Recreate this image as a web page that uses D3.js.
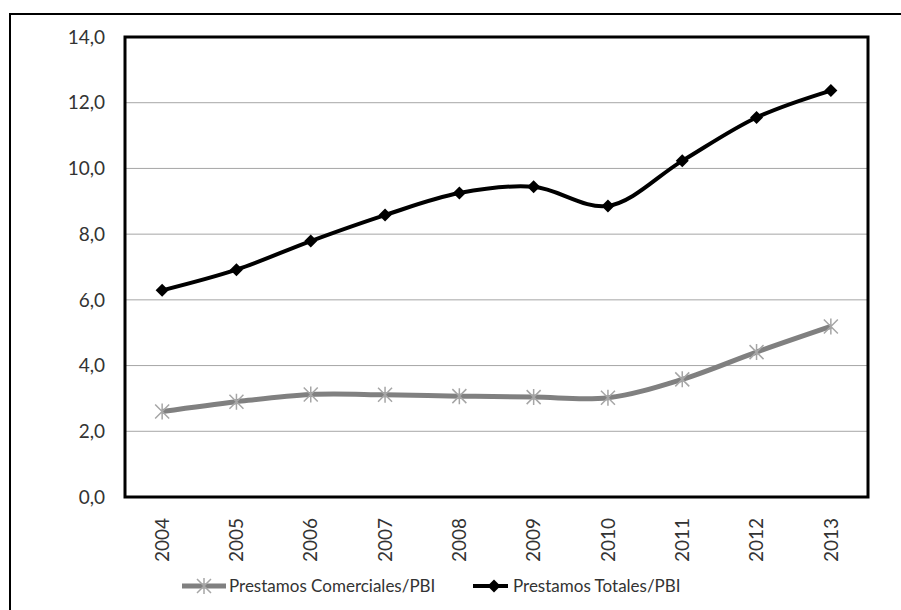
<!DOCTYPE html>
<html>
<head>
	<meta charset="utf-8">
	<title>Prestamos / PBI</title>
	<script src="https://d3js.org/d3.v7.min.js"></script>
	<style type="text/css">
		body {
			margin: 0;
			background: #fff;
		}
		svg {
			display: block;
			font-family: Lato, "Open Sans", sans-serif;
		}
		.grid line {
			stroke: #a6a6a6;
			stroke-width: 1;
		}
		.tick-label {
			fill: #333;
			font-size: 19px;
		}
		.legend-label {
			fill: #333;
			font-size: 17px;
		}
	</style>
</head>
<body>

<div id="chart"></div>

<script>
	// data
	var years = ["2004", "2005", "2006", "2007", "2008", "2009", "2010", "2011", "2012", "2013"];
	var comerciales = [2.60, 2.90, 3.12, 3.11, 3.07, 3.04, 3.02, 3.58, 4.41, 5.19];
	var totales = [6.29, 6.92, 7.79, 8.58, 9.25, 9.44, 8.86, 10.23, 11.55, 12.37];
	var yTicks = [0, 2, 4, 6, 8, 10, 12, 14];
	var seriesNames = ["Prestamos Comerciales/PBI", "Prestamos Totales/PBI"];

	var width = 901, height = 610;
	var plot = {left: 125, top: 37, right: 868, bottom: 497};

	var svg = d3.select("#chart").append("svg")
		.attr("width", width)
		.attr("height", height);

	// outer frame (runs off the right and bottom of the picture)
	svg.append("rect")
		.attr("x", 10).attr("y", 14)
		.attr("width", 920).attr("height", 620)
		.attr("fill", "none")
		.attr("stroke", "#000")
		.attr("stroke-width", 2);

	var x = d3.scaleBand()
		.domain(years)
		.range([plot.left, plot.right])
		.padding(0);

	var y = d3.scaleLinear()
		.domain([0, 14])
		.range([plot.bottom, plot.top]);

	var cx = function(d) { return x(d) + x.bandwidth() / 2; };
	var fmt = function(v) { return d3.format(".1f")(v).replace(".", ","); };

	// gridlines
	svg.append("g")
		.attr("class", "grid")
		.selectAll("line")
		.data(yTicks.filter(function(t) { return t > 0 && t < 14; }))
		.enter()
		.append("line")
		.attr("x1", plot.left).attr("x2", plot.right)
		.attr("y1", function(d) { return y(d); })
		.attr("y2", function(d) { return y(d); });

	// y labels
	svg.append("g")
		.selectAll("text")
		.data(yTicks)
		.enter()
		.append("text")
		.attr("class", "tick-label")
		.attr("x", 105)
		.attr("y", function(d) { return y(d); })
		.attr("dy", "0.35em")
		.attr("text-anchor", "end")
		.text(fmt);

	// x labels, rotated
	svg.append("g")
		.selectAll("text")
		.data(years)
		.enter()
		.append("text")
		.attr("class", "tick-label")
		.attr("transform", function(d) { return "translate(" + cx(d) + "," + (plot.bottom + 21) + ") rotate(-90)"; })
		.attr("dy", "0.35em")
		.attr("text-anchor", "end")
		.text(function(d) { return d; });

	// plot border
	svg.append("rect")
		.attr("x", plot.left).attr("y", plot.top)
		.attr("width", plot.right - plot.left)
		.attr("height", plot.bottom - plot.top)
		.attr("fill", "none")
		.attr("stroke", "#000")
		.attr("stroke-width", 3);

	var line = d3.line()
		.x(function(d, i) { return cx(years[i]); })
		.y(function(d) { return y(d); })
		.curve(d3.curveCatmullRom.alpha(0.5));

	var starPath = "M-7,-7L7,7M-7,7L7,-7M0,-8V8";
	var diamondPath = "M0,-6.5L6.5,0L0,6.5L-6.5,0Z";

	// comerciales
	svg.append("path")
		.datum(comerciales)
		.attr("d", line)
		.attr("fill", "none")
		.attr("stroke", "#808080")
		.attr("stroke-width", 5)
		.attr("stroke-linejoin", "round");

	svg.append("g")
		.selectAll("path")
		.data(comerciales)
		.enter()
		.append("path")
		.attr("d", starPath)
		.attr("transform", function(d, i) { return "translate(" + cx(years[i]) + "," + y(d) + ")"; })
		.attr("fill", "none")
		.attr("stroke", "#a6a6a6")
		.attr("stroke-width", 1.5);

	// totales
	svg.append("path")
		.datum(totales)
		.attr("d", line)
		.attr("fill", "none")
		.attr("stroke", "#000")
		.attr("stroke-width", 4)
		.attr("stroke-linejoin", "round");

	svg.append("g")
		.selectAll("path")
		.data(totales)
		.enter()
		.append("path")
		.attr("d", diamondPath)
		.attr("transform", function(d, i) { return "translate(" + cx(years[i]) + "," + y(d) + ")"; })
		.attr("fill", "#000");

	// legend
	var legY = 586;
	var leg1 = svg.append("g");
	leg1.append("line")
		.attr("x1", 182).attr("x2", 226)
		.attr("y1", legY).attr("y2", legY)
		.attr("stroke", "#808080").attr("stroke-width", 5);
	leg1.append("path")
		.attr("d", starPath)
		.attr("transform", "translate(204," + legY + ")")
		.attr("fill", "none").attr("stroke", "#a6a6a6").attr("stroke-width", 1.5);
	leg1.append("text")
		.attr("class", "legend-label")
		.attr("x", 229).attr("y", legY)
		.attr("dy", "0.35em")
		.text(seriesNames[0]);

	var leg2 = svg.append("g");
	leg2.append("line")
		.attr("x1", 473).attr("x2", 508)
		.attr("y1", legY).attr("y2", legY)
		.attr("stroke", "#000").attr("stroke-width", 4);
	leg2.append("path")
		.attr("d", diamondPath)
		.attr("transform", "translate(494," + legY + ")")
		.attr("fill", "#000");
	leg2.append("text")
		.attr("class", "legend-label")
		.attr("x", 513).attr("y", legY)
		.attr("dy", "0.35em")
		.text(seriesNames[1]);
</script>

</body>
</html>
